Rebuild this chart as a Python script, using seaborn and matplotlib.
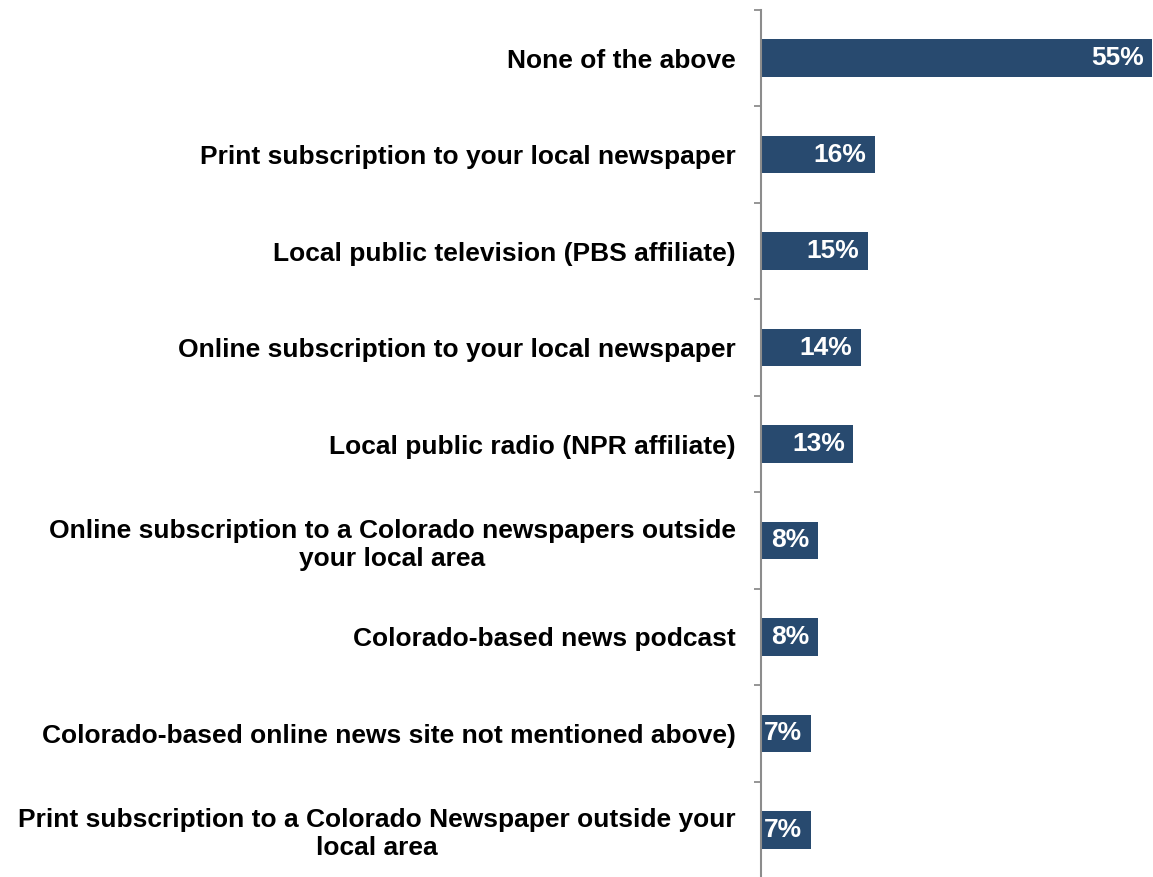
import matplotlib
matplotlib.use("Agg")
import matplotlib.pyplot as plt
import seaborn as sns
import pandas as pd
import numpy as np

categories = [
    "None of the above",
    "Print subscription to your local newspaper",
    "Local public television (PBS affiliate)",
    "Online subscription to your local newspaper",
    "Local public radio (NPR affiliate)",
    "Online subscription to a Colorado newspapers outside\nyour local area",
    "Colorado-based news podcast",
    "Colorado-based online news site not mentioned above)",
    "Print subscription to a Colorado Newspaper outside your\nlocal area",
]
values = [55, 16, 15, 14, 13, 8, 8, 7, 7]
value_labels = ["55%", "16%", "15%", "14%", "13%", "8%", "8%", "7%", "7%"]

sns.set_theme(style="white")
plt.rcParams["font.family"] = ["Liberation Sans", "DejaVu Sans"]

W, H = 1153, 877
fig = plt.figure(figsize=(W / 100, H / 100), dpi=100)
ax = fig.add_axes([761 / W, 1 - 878 / H, 1 - 761 / W, 868 / H])

df = pd.DataFrame({"cat": categories, "val": values})
sns.barplot(data=df, y="cat", x="val", orient="h", color="#284A6F",
            saturation=1, width=0.39, ax=ax, edgecolor="none")

ax.set_xlim(0, 55.1)
ax.set_ylim(len(categories) - 0.5, -0.5)
ax.set_xlabel("")
ax.set_ylabel("")
ax.set_xticks([])

# category labels, no major tick marks
ax.set_yticks(range(len(categories)))
ax.set_yticklabels(categories, fontsize=19, fontweight="bold", color="black",
                   ha="center", multialignment="center")
ax.tick_params(axis="y", which="major", length=0, pad=18)
for lab in ax.get_yticklabels():
    lab.set_horizontalalignment("right")

# boundary tick marks between categories
ax.set_yticks(np.arange(-0.5, len(categories)), minor=True)
ax.tick_params(axis="y", which="minor", length=5, width=1.3,
               color="#8c8c8c", direction="out", left=True)

for side in ["top", "right", "bottom"]:
    ax.spines[side].set_visible(False)
ax.spines["left"].set_color("#8c8c8c")
ax.spines["left"].set_linewidth(1.5)

for i, (v, lab) in enumerate(zip(values, value_labels)):
    ax.annotate(lab, xy=(v, i), xytext=(-6, 0), textcoords="offset points",
                ha="right", va="center", color="white", fontsize=19,
                fontweight="bold")

fig.savefig("out.png", dpi=100)
